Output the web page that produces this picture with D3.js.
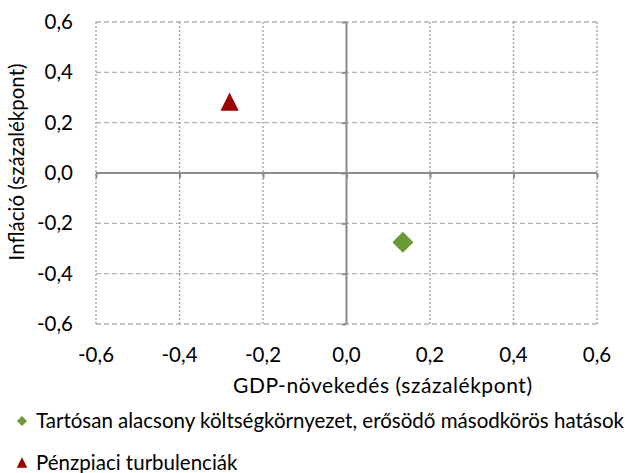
<!DOCTYPE html>
<html><head><meta charset="utf-8">
<script src="https://cdn.jsdelivr.net/npm/d3@7"></script>
<style>body{margin:0;background:#fff;} text{font-family:Lato, "Open Sans", sans-serif;}</style>
</head><body>
<svg id="c" width="625" height="473"></svg>
<script>
const seriesNames = ["Tartósan alacsony költségkörnyezet, erősödő másodkörös hatások", "Pénzpiaci turbulenciák"];
const seriesX = [0.135, -0.28];
const seriesY = [-0.275, 0.28];
const seriesColors = ["#6a9a34", "#9c0000"];
const seriesShapes = ["diamond", "triangle"];
const xTicks = [-0.6, -0.4, -0.2, 0.0, 0.2, 0.4, 0.6];
const yTicks = [-0.6, -0.4, -0.2, 0.0, 0.2, 0.4, 0.6];
const xTitle = "GDP-növekedés (százalékpont)";
const yTitle = "Infláció (százalékpont)";

const svg = d3.select("#c");
const L = 96, R = 597, T = 22, B = 324;
const x = d3.scaleLinear().domain([-0.6, 0.6]).range([L, R]);
const y = d3.scaleLinear().domain([-0.6, 0.6]).range([B, T]);
const fmt = d => d3.format(".1f")(d).replace(".", ",").replace("−", "-");
const fs = 20.5;

// gridlines
svg.append("g").selectAll("line").data(yTicks).join("line")
  .attr("x1", L).attr("x2", R).attr("y1", d => y(d)).attr("y2", d => y(d))
  .attr("stroke", "#b3b3b3").attr("stroke-width", 1.3).attr("stroke-dasharray", "5,3");
svg.append("g").selectAll("line").data(xTicks).join("line")
  .attr("y1", T).attr("y2", B).attr("x1", d => x(d)).attr("x2", d => x(d))
  .attr("stroke", "#a0a0a0").attr("stroke-width", 1.3).attr("stroke-dasharray", "2,2");

// axes through zero
const xAxis = d3.axisBottom(x).tickValues(xTicks).tickSize(5).tickFormat("");
const gx = svg.append("g").attr("transform", `translate(0,${y(0)})`).call(xAxis);
gx.select(".domain").attr("stroke", "#8c8c8c").attr("stroke-width", 2).attr("d", `M${L},0H${R}`);
gx.selectAll(".tick line").attr("stroke", "#8c8c8c").attr("stroke-width", 2);
const yAxis = d3.axisLeft(y).tickValues(yTicks).tickSize(5).tickFormat("");
const gy = svg.append("g").attr("transform", `translate(${x(0)},0)`).call(yAxis);
gy.select(".domain").attr("stroke", "#8c8c8c").attr("stroke-width", 2).attr("d", `M0,${T}V${B}`);
gy.selectAll(".tick line").attr("stroke", "#8c8c8c").attr("stroke-width", 2);

// tick labels at the plot edges
svg.append("g").selectAll("text").data(xTicks).join("text")
  .attr("x", d => x(d)).attr("y", 362).attr("text-anchor", "middle")
  .attr("font-size", fs).attr("fill", "#000").text(fmt);
svg.append("g").selectAll("text").data(yTicks).join("text")
  .attr("x", 73).attr("y", d => y(d) + 7).attr("text-anchor", "end")
  .attr("font-size", fs).attr("fill", "#000").text(fmt);

// titles
svg.append("text").attr("x", 233).attr("y", 393)
  .attr("font-size", 21).attr("textLength", 299).attr("lengthAdjust", "spacing").text(xTitle);
svg.append("text").attr("transform", `translate(24,162) rotate(-90)`).attr("text-anchor", "middle")
  .attr("font-size", fs).text(yTitle);

// custom symbols
const diamond = {draw(ctx, size) { const r = Math.sqrt(size / 2); ctx.moveTo(0, -r); ctx.lineTo(r, 0); ctx.lineTo(0, r); ctx.lineTo(-r, 0); ctx.closePath(); }};
const triangle = {draw(ctx, size) { const h = Math.sqrt(size * 2); ctx.moveTo(0, -h * 0.55); ctx.lineTo(h / 2, h * 0.45); ctx.lineTo(-h / 2, h * 0.45); ctx.closePath(); }};
const sym = {diamond, triangle};
const sizes = {diamond: 220, triangle: 165};
// points
svg.append("g").selectAll("path").data(seriesX).join("path")
  .attr("transform", (d, i) => `translate(${x(d)},${y(seriesY[i])})`)
  .attr("d", (d, i) => d3.symbol().type(sym[seriesShapes[i]]).size(sizes[seriesShapes[i]])())
  .attr("fill", (d, i) => seriesColors[i]);

// legend
const lg = svg.append("g").selectAll("g").data(seriesNames).join("g")
  .attr("transform", (d, i) => `translate(22,${421 + i * 42})`);
lg.append("path")
  .attr("d", (d, i) => d3.symbol().type(sym[seriesShapes[i]]).size(seriesShapes[i] === "diamond" ? 50 : 55)())
  .attr("fill", (d, i) => seriesColors[i]);
lg.append("text").attr("x", 14).attr("y", 7).attr("font-size", fs).text(d => d);
</script>
</body></html>
